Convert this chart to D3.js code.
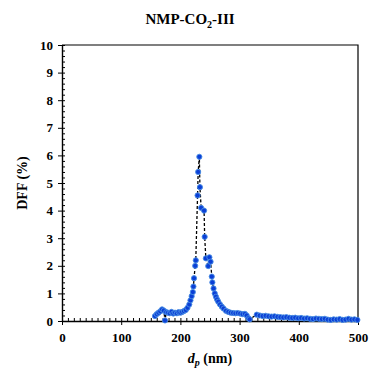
<!DOCTYPE html>
<html>
<head>
<meta charset="utf-8">
<script src="https://cdn.jsdelivr.net/npm/d3@7"></script>
<style>
  body { margin: 0; background: #fff; }
  svg text { font-family: "Liberation Serif", "Times New Roman", serif; font-weight: bold; }
</style>
</head>
<body>
<figure id="chart" style="margin:0"></figure>
<script>
// particle diameter (nm) and DFF (%)
const diameters = [157, 160, 163, 166, 169, 172, 174, 176, 179, 182, 185, 188, 191, 194, 197, 200,
  203, 206, 209, 212, 215, 217, 219, 221, 222, 223, 225, 226, 229, 230, 232, 233, 235, 240, 241,
  243, 247, 249, 251, 253, 254, 256, 258, 260, 262, 264, 267, 270, 273, 277, 281, 285, 289, 293,
  297, 301, 305, 309, 312, 315, 317, 329, 334, 339, 344, 349, 354, 359, 364, 369, 374, 379, 384,
  389, 394, 399, 404, 409, 414, 419, 424, 429, 434, 439, 444, 449, 454, 459, 464, 469, 474, 479,
  484, 489, 494, 499];
const dff = [0.18, 0.25, 0.30, 0.35, 0.42, 0.38, 0.02, 0.32, 0.30, 0.28, 0.33, 0.27, 0.30, 0.28, 0.32, 0.30,
  0.33, 0.36, 0.40, 0.48, 0.60, 0.75, 0.90, 1.05, 1.25, 1.55, 2.00, 2.20, 4.55, 5.40, 5.95, 4.85, 4.10, 4.00, 3.05,
  2.27, 1.99, 2.31, 2.15, 1.61, 1.40, 1.18, 1.00, 0.88, 0.78, 0.70, 0.60, 0.52, 0.45, 0.37, 0.33, 0.30, 0.29, 0.28,
  0.29, 0.27, 0.25, 0.26, 0.20, 0.10, 0.06, 0.23, 0.20, 0.18, 0.19, 0.17, 0.16, 0.17, 0.15, 0.14, 0.13, 0.14, 0.12,
  0.11, 0.12, 0.10, 0.11, 0.09, 0.10, 0.08, 0.07, 0.09, 0.08, 0.07, 0.08, 0.05, 0.04, 0.06, 0.05, 0.07, 0.04, 0.05,
  0.08, 0.05, 0.06, 0.04];
const xTicks = [0, 100, 200, 300, 400, 500];
const yTicks = [0, 1, 2, 3, 4, 5, 6, 7, 8, 9, 10];

const data = diameters.map((d, i) => ({ d: d, v: dff[i] }));

const W = 369, H = 368;
const mLeft = 62, mRight = 358, mTop = 45, mBottom = 321;

const svg = d3.select("figure#chart")
  .append("svg")
  .attr("width", W)
  .attr("height", H);

const x = d3.scaleLinear().domain([0, 500]).range([mLeft, mRight]);
const y = d3.scaleLinear().domain([0, 10]).range([mBottom, mTop]);

// title
const title = svg.append("text")
  .attr("x", 190)
  .attr("y", 24)
  .attr("text-anchor", "middle")
  .attr("font-size", 15);
title.append("tspan").text("NMP-CO");
title.append("tspan").attr("font-size", 10).attr("dy", 4).text("2");
title.append("tspan").attr("dy", -4).text("-III");

// frame on top and right
svg.append("path")
  .attr("d", "M" + mLeft + "," + mTop + "H" + mRight + "V" + mBottom)
  .attr("fill", "none")
  .attr("stroke", "#000")
  .attr("stroke-width", 1.2);

// minor ticks, pointing inward
svg.append("g")
  .attr("transform", "translate(0," + mBottom + ")")
  .call(d3.axisTop(x).tickValues(d3.range(0, 501, 10)).tickSize(3).tickFormat(""))
  .call(g => g.select(".domain").remove());
svg.append("g")
  .attr("transform", "translate(" + mLeft + ",0)")
  .call(d3.axisRight(y).tickValues(d3.range(0, 10.01, 0.2)).tickSize(3).tickFormat(""))
  .call(g => g.select(".domain").remove());

// major axes
const xAxis = svg.append("g")
  .attr("transform", "translate(0," + mBottom + ")")
  .call(d3.axisBottom(x).tickValues(xTicks).tickSize(4).tickSizeOuter(0).tickPadding(8));
const yAxis = svg.append("g")
  .attr("transform", "translate(" + mLeft + ",0)")
  .call(d3.axisLeft(y).tickValues(yTicks).tickSize(4).tickSizeOuter(0).tickPadding(5));

[xAxis, yAxis].forEach(g => {
  g.selectAll("text").attr("font-size", 13).attr("fill", "#000")
    .style("font-family", "'Liberation Serif', serif").style("font-weight", "bold");
  g.select(".domain").attr("stroke-width", 1.4);
});

// axis labels
svg.append("text")
  .attr("transform", "rotate(-90)")
  .attr("x", -183)
  .attr("y", 27)
  .attr("text-anchor", "middle")
  .attr("font-size", 14)
  .text("DFF (%)");

const xl = svg.append("text")
  .attr("x", 210)
  .attr("y", 363)
  .attr("text-anchor", "middle")
  .attr("font-size", 14);
xl.append("tspan").attr("font-style", "italic").text("d");
xl.append("tspan").attr("font-style", "italic").attr("font-size", 10).attr("dy", 3).text("p");
xl.append("tspan").attr("dy", -3).text(" (nm)");

// dashed connecting line
const line = d3.line()
  .x(d => x(d.d))
  .y(d => y(d.v));

svg.append("path")
  .datum(data)
  .attr("d", line)
  .attr("fill", "none")
  .attr("stroke", "#000")
  .attr("stroke-width", 1.3)
  .attr("stroke-dasharray", "3,2");

// markers
svg.append("g")
  .selectAll("circle")
  .data(data)
  .enter()
  .append("circle")
  .attr("cx", d => x(d.d))
  .attr("cy", d => y(d.v))
  .attr("r", 2.6)
  .attr("fill", "#0b3fd6")
  .attr("stroke", "#4a8fe3")
  .attr("stroke-width", 0.9);
</script>
</body>
</html>
